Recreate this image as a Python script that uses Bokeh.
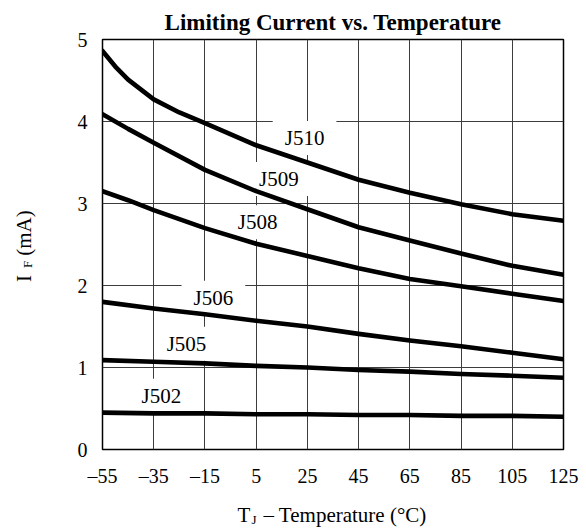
from math import pi
from bokeh.plotting import figure
from bokeh.layouts import row, column
from bokeh.models import Range1d, FixedTicker, Label
from bokeh.embed import file_html
from bokeh.resources import INLINE

# ---- data ----
xticks = [-55, -35, -15, 5, 25, 45, 65, 85, 105, 125]
xtick_labels = ["\u201355", "\u201335", "\u201315", "5", "25", "45", "65", "85", "105", "125"]
yticks = [0, 1, 2, 3, 4, 5]

temps_j510 = [-55, -50, -45, -35, -25, -15, 5, 25, 45, 65, 85, 105, 125]
j510 = [4.86, 4.67, 4.51, 4.27, 4.11, 3.98, 3.71, 3.50, 3.29, 3.13, 2.99, 2.87, 2.79]

temps_j509 = [-55, -45, -35, -15, 5, 25, 45, 65, 85, 105, 125]
j509 = [4.09, 3.91, 3.74, 3.41, 3.15, 2.93, 2.71, 2.55, 2.39, 2.24, 2.13]

temps_j508 = [-55, -45, -35, -15, 5, 25, 45, 65, 85, 105, 125]
j508 = [3.15, 3.04, 2.92, 2.70, 2.51, 2.36, 2.21, 2.08, 1.99, 1.90, 1.81]

temps = [-55, -35, -15, 5, 25, 45, 65, 85, 105, 125]
j506 = [1.80, 1.72, 1.65, 1.57, 1.50, 1.41, 1.33, 1.26, 1.18, 1.10]
j505 = [1.09, 1.07, 1.05, 1.02, 1.00, 0.97, 0.95, 0.92, 0.90, 0.875]
j502 = [0.45, 0.44, 0.44, 0.43, 0.43, 0.42, 0.42, 0.41, 0.41, 0.40]

curve_names = ["J510", "J509", "J508", "J506", "J505", "J502"]
name_x = [23.9, 13.9, 5.6, -11.7, -22.2, -32.0]
name_y = [3.80, 3.30, 2.77, 1.85, 1.29, 0.655]

title_text = "Limiting Current vs. Temperature"

SERIF = "Liberation Serif"

# ---- layout sizes (page pixels) ----
PAGE_W, PAGE_H = 586, 529
YLAB_W = 40
MAIN_H = 495
XLAB_H = PAGE_H - MAIN_H
MAIN_W = PAGE_W - YLAB_W
B_LEFT, B_RIGHT, B_TOP, B_BOTTOM = 62, 23, 39, 46

p = figure(width=MAIN_W, height=MAIN_H, x_range=Range1d(-55, 125), y_range=Range1d(0, 5),
           output_backend="svg", toolbar_location=None,
           min_border_left=B_LEFT, min_border_right=B_RIGHT,
           min_border_top=B_TOP, min_border_bottom=B_BOTTOM)
p.background_fill_color = "white"
p.border_fill_color = "white"
p.outline_line_color = "black"
p.outline_line_width = 1.5

p.title.text = title_text
p.title.align = "center"
p.title.text_font = SERIF
p.title.text_font_size = "23px"
p.title.text_font_style = "bold"
p.title.text_color = "black"
p.title.standoff = 9

for ax, ticks in ((p.xaxis, xticks), (p.yaxis, yticks)):
    ax.ticker = FixedTicker(ticks=ticks)
    ax.axis_line_color = None
    ax.major_tick_line_color = None
    ax.minor_tick_line_color = None
    ax.major_tick_out = 0
    ax.major_tick_in = 0
    ax.major_label_text_font = SERIF
    ax.major_label_text_font_size = "20px"
    ax.major_label_text_color = "black"
    ax.major_label_standoff = 15
p.xaxis.major_label_overrides = {t: s for t, s in zip(xticks, xtick_labels)}

p.xgrid.ticker = FixedTicker(ticks=xticks)
p.ygrid.ticker = FixedTicker(ticks=yticks)
for g in (p.xgrid, p.ygrid):
    g.grid_line_color = "#3c3c3c"
    g.grid_line_width = 1
    g.grid_line_alpha = 1
    g.level = "image"

for xs, ys in ((temps_j510, j510), (temps_j509, j509), (temps_j508, j508),
               (temps, j506), (temps, j505), (temps, j502)):
    p.line(xs, ys, line_color="black", line_width=4.6, line_cap="round", line_join="round")

for name, lx, ly in zip(curve_names, name_x, name_y):
    p.add_layout(Label(x=lx, y=ly, text=name, text_font=SERIF, text_font_size="21px",
                       text_align="center", text_baseline="middle", text_color="black",
                       background_fill_color="white", padding=(12, 5), level="underlay"))


def text_panel(w, h, y_top, y_bottom):
    f = figure(width=w, height=h, x_range=Range1d(0, w), y_range=Range1d(y_bottom, y_top),
               output_backend="svg", toolbar_location=None,
               x_axis_location=None, y_axis_location=None, min_border=0)
    f.outline_line_color = None
    f.grid.visible = False
    f.background_fill_color = "white"
    f.border_fill_color = "white"
    return f


# y axis label: I_F (mA).  In a row the panel's frame is aligned with the main
# frame, so its range is set to the page pixels that frame covers.
ylab = text_panel(YLAB_W, MAIN_H, B_TOP, MAIN_H - B_BOTTOM)
for txt, mx, cy_, size in (("I", 23, 278, "21px"), ("F", 26.5, 264, "13px"), ("(mA)", 23, 232.5, "21px")):
    ylab.add_layout(Label(x=mx, y=cy_, text=txt, text_font=SERIF, text_font_size=size, angle=pi / 2,
                          text_align="center", text_baseline="middle", text_color="black"))

# x axis label: T_J – Temperature (°C)
xlab = text_panel(PAGE_W, XLAB_H, 0, XLAB_H)
for txt, sx, my, size in (("T", 237, 19.5, "21px"), ("J", 251, 23.8, "13px"),
                          ("\u2013 Temperature (\u00b0C)", 263, 19.5, "21px")):
    xlab.add_layout(Label(x=sx, y=my, text=txt, text_font=SERIF, text_font_size=size,
                          text_align="left", text_baseline="middle", text_color="black"))

layout = column(row(ylab, p, spacing=0), xlab, spacing=0)

open("out.html", "w").write(file_html(layout, INLINE))
